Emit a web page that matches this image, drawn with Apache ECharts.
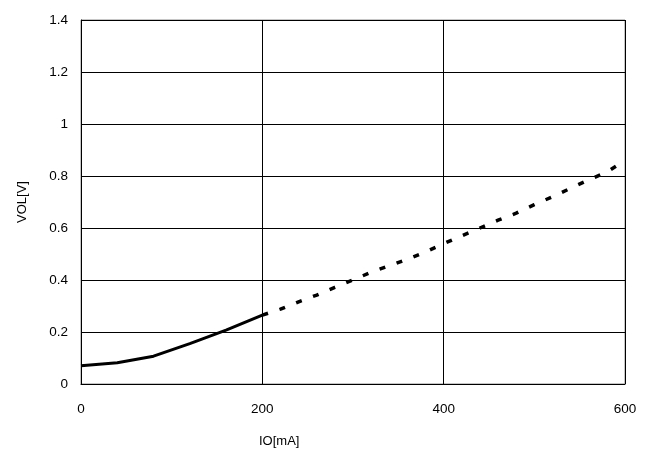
<!DOCTYPE html>
<html>
<head>
<meta charset="utf-8">
<script src="https://cdn.jsdelivr.net/npm/echarts@6/dist/echarts.min.js"></script>
<style>html,body{margin:0;padding:0;background:#fff;}#c{width:658px;height:454px;}</style>
</head>
<body>
<div id="c"></div>
<script>
const ioSolid = [0, 40, 80, 120, 160, 200];
const volSolid = [0.07, 0.082, 0.107, 0.155, 0.207, 0.265];
const ioDashed = [200, 220, 240, 260, 280, 300, 320, 340, 360, 380, 400, 420, 440, 460, 480, 500, 520, 540, 560, 580, 600];
const volDashed = [0.265, 0.288, 0.316, 0.342, 0.372, 0.40, 0.43, 0.455, 0.48, 0.508, 0.54, 0.57, 0.60, 0.63, 0.657, 0.69, 0.72, 0.753, 0.785, 0.815, 0.86];
const xName = 'IO[mA]';
const yName = 'VOL[V]';

const chart = echarts.init(document.getElementById('c'), null, {renderer: 'canvas'});
const font = 'Liberation Sans, Arial, sans-serif';
chart.setOption({
  animation: false,
  backgroundColor: '#fff',
  grid: {left: 81, right: 33, top: 20, bottom: 70, show: true, borderColor: '#8c8c8c', borderWidth: 1},
  xAxis: {
    type: 'value', min: 0, max: 600, interval: 200,
    axisLine: {show: true, onZero: false, lineStyle: {color: '#000', width: 1}},
    axisTick: {show: false},
    splitLine: {show: true, lineStyle: {color: '#000', width: 1}},
    axisLabel: {color: '#000', fontSize: 13.5, fontFamily: font, margin: 18}
  },
  yAxis: {
    type: 'value', min: 0, max: 1.4, interval: 0.2,
    name: yName, nameLocation: 'middle', nameGap: 52,
    nameTextStyle: {color: '#000', fontSize: 13, fontFamily: font},
    axisLine: {show: true, onZero: false, lineStyle: {color: '#000', width: 1}},
    axisTick: {show: false},
    splitLine: {show: true, lineStyle: {color: '#000', width: 1}},
    axisLabel: {color: '#000', fontSize: 13.5, fontFamily: font, margin: 13,
      formatter: v => String(Math.round(v * 10) / 10)}
  },
  graphic: [{
    type: 'text', left: 280 - 21, top: 435,
    style: {text: xName, fill: '#000', font: '13px ' + font}
  }],
  series: [{
    type: 'line', data: ioSolid.map((x, i) => [x, volSolid[i]]),
    showSymbol: false, lineStyle: {color: '#000', width: 3}
  }, {
    type: 'line', data: ioDashed.map((x, i) => [x, volDashed[i]]),
    showSymbol: false, lineStyle: {color: '#000', width: 3.5, type: [6, 12]}
  }]
});
</script>
</body>
</html>
